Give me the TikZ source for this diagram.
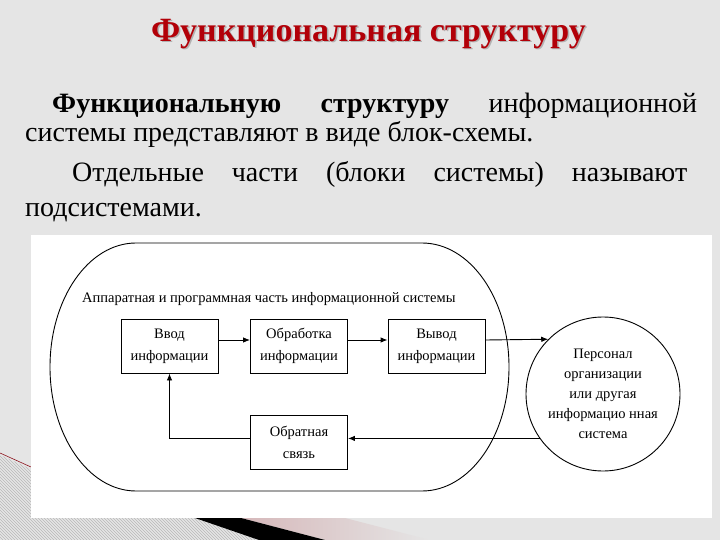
\documentclass[tikz,border=0pt]{standalone}
\usepackage{fontspec}
\setmainfont{Liberation Serif}
\usetikzlibrary{arrows.meta,patterns}
\definecolor{bgc}{RGB}{229,229,229}
\definecolor{titlered}{RGB}{178,0,8}
\definecolor{pinkc}{RGB}{214,184,186}
\definecolor{redline}{RGB}{140,20,30}
\newcommand{\parafont}{\fontsize{28}{30}\selectfont}
\newcommand{\diagfont}{\fontsize{14.5}{22}\selectfont}
\newcommand{\ttltext}{Функциональная структуру}
\begin{document}
\begin{tikzpicture}[x=1pt,y=-1pt,
  ln/.style={line width=0.9pt, draw=black},
  arr/.style={ln, -{Latex[length=7pt,width=5.5pt]}},
  blk/.style={ln, minimum width=97pt, minimum height=54pt, inner sep=0pt, align=center, font=\diagfont},
  pline/.style={anchor=base west, inner sep=0pt, font=\parafont}]
\useasboundingbox (0,0) rectangle (720,540);
\fill[bgc] (0,0) rectangle (720,540);
% decorations
\fill[pattern=north west lines, pattern color=gray!55] (0,455) -- (31,469) -- (31,518) -- (195,518) -- (259,540) -- (0,540) -- cycle;
\draw[redline, line width=0.6pt] (0,453) -- (31,467);
\shade[left color=pinkc, right color=bgc] (241,518) -- (345,518) -- (430,540) -- (325,540) -- cycle;
\fill[black] (195,518) -- (241,518) -- (325,540) -- (259,540) -- cycle;
\fill[white] (31,235) rectangle (712,518);
% title (with shadow)
\node[anchor=base, inner sep=0pt, font=\fontsize{34}{36}\selectfont\bfseries] (title) at (368.5,41.5)
  {\makebox[0pt][l]{\raisebox{-1.5pt}{\hspace{1.5pt}\textcolor{gray!60}{\ttltext}}}\textcolor{titlered}{\ttltext}};
% paragraph
\node[pline] (l1) at (52,112.7) {\makebox[645pt][s]{\textbf{Функциональную}\hfill\textbf{структуру}\hfill информационной}};
\node[pline] (l2) at (25,141.7) {системы представляют в виде блок-схемы.};
\node[pline] (l3) at (72,181.7) {\makebox[615pt][s]{Отдельные\hfill части\hfill (блоки\hfill системы)\hfill называют}};
\node[pline] (l4) at (25,216.7) {подсистемами.};
% diagram
\draw[ln] (136,243) -- (422,243) arc[start angle=-90,end angle=90,x radius=87,y radius=124] -- (136,491) arc[start angle=90,end angle=270,x radius=86,y radius=124] -- cycle;
\node[anchor=base west, inner sep=0pt, font=\diagfont] (lab) at (82,302) {Аппаратная и программная часть информационной системы};
\node[blk, draw] (vvod) at (169.5,346) {Ввод\\информации};
\node[blk, draw] (obr) at (299,346) {Обработка\\информации};
\node[blk, draw] (vyv) at (436.5,346) {Вывод\\информации};
\node[blk, draw] (fb) at (299,442) {Обратная\\связь};
\node[ln, draw, circle, minimum size=154pt, inner sep=0pt, align=center, font=\fontsize{14.5}{20}\selectfont] (pers) at (603,394) {Персонал\\организации\\или другая\\информацио нная\\система};
\draw[arr] ([yshift=6pt]vvod.east) -- ([yshift=6pt]obr.west);
\draw[arr] ([yshift=6pt]obr.east) -- ([yshift=6pt]vyv.west);
\draw[arr] ([yshift=6pt]vyv.east) -- (pers.135.5);
\draw[arr] (pers.215.8) -- (pers.215.8 -| fb.east);
\draw[arr] (pers.215.8 -| fb.west) -| (vvod.south);
\end{tikzpicture}
\end{document}
